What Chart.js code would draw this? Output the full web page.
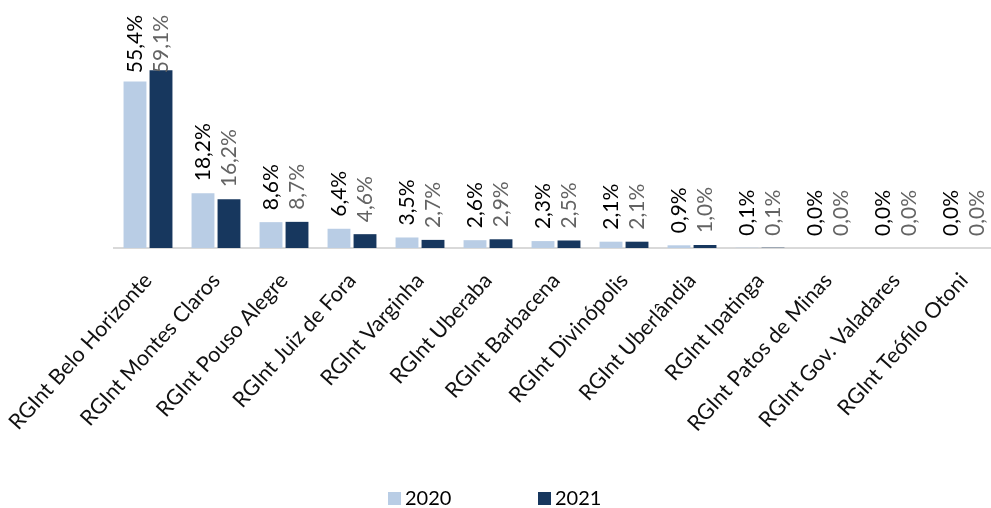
<!DOCTYPE html>
<html>
<head>
<meta charset="utf-8">
<script src="https://cdn.jsdelivr.net/npm/chart.js@4/dist/chart.umd.min.js"></script>
<style>
  html, body { margin: 0; padding: 0; background: #fff; overflow: hidden; }
  #wrap { width: 991px; height: 508px; overflow: hidden; }
  #chart { display: block; }
</style>
</head>
<body>
<div id="wrap"><canvas id="chart" width="1000" height="508"></canvas></div>
<script>
const categories = [
    "RGInt Belo Horizonte", "RGInt Montes Claros", "RGInt Pouso Alegre",
    "RGInt Juiz de Fora", "RGInt Varginha", "RGInt Uberaba",
    "RGInt Barbacena", "RGInt Divinópolis", "RGInt Uberlândia",
    "RGInt Ipatinga", "RGInt Patos de Minas", "RGInt Gov. Valadares",
    "RGInt Teófilo Otoni"
];
const values2020 = [55.4, 18.2, 8.6, 6.4, 3.5, 2.6, 2.3, 2.1, 0.9, 0.1, 0.0, 0.0, 0.0];
const values2021 = [59.1, 16.2, 8.7, 4.6, 2.7, 2.9, 2.5, 2.1, 1.0, 0.1, 0.0, 0.0, 0.0];
const seriesNames = ["2020", "2021"];

const FONT = "Lato";

function pct(v) {
    return v.toFixed(1).replace(".", ",") + "%";
}

// vertical value labels above each bar
const valueLabels = {
    id: "valueLabels",
    afterDatasetsDraw(chart) {
        const ctx = chart.ctx;
        chart.data.datasets.forEach((ds, i) => {
            const meta = chart.getDatasetMeta(i);
            ctx.save();
            ctx.font = "21px " + FONT;
            ctx.fillStyle = i === 0 ? "#000000" : "#636363";
            ctx.textAlign = "left";
            ctx.textBaseline = "middle";
            meta.data.forEach((bar, j) => {
                const text = pct(ds.data[j]);
                const w = ctx.measureText(text).width;
                let y = bar.y - 12;
                if (y - w < 15) y = 15 + w;
                ctx.save();
                ctx.translate(bar.x, y);
                ctx.rotate(-Math.PI / 2);
                ctx.fillText(text, 0, 0);
                ctx.restore();
            });
            ctx.restore();
        });
    }
};

// legend drawn at the bottom
const bottomLegend = {
    id: "bottomLegend",
    afterDraw(chart) {
        const ctx = chart.ctx;
        const xs = [388, 538];
        const y = 499;
        ctx.save();
        ctx.font = "20px " + FONT;
        ctx.textBaseline = "middle";
        ctx.textAlign = "left";
        chart.data.datasets.forEach((ds, i) => {
            ctx.fillStyle = ds.backgroundColor;
            ctx.fillRect(xs[i], y - 7, 13, 13);
            ctx.fillStyle = "#000";
            ctx.fillText(ds.label, xs[i] + 17, y);
        });
        ctx.restore();
    }
};

new Chart(document.getElementById("chart"), {
    type: "bar",
    data: {
        labels: categories,
        datasets: [
            {
                label: seriesNames[0],
                data: values2020,
                backgroundColor: "#b9cde5",
                categoryPercentage: 0.765,
                barPercentage: 0.88
            },
            {
                label: seriesNames[1],
                data: values2021,
                backgroundColor: "#17375e",
                categoryPercentage: 0.765,
                barPercentage: 0.88
            }
        ]
    },
    options: {
        responsive: false,
        animation: false,
        layout: {
            padding: { left: 114, right: 2, top: 0, bottom: 0 }
        },
        plugins: {
            legend: { display: false },
            tooltip: { enabled: false }
        },
        scales: {
            x: {
                grid: { display: false, drawTicks: false },
                border: { display: true, color: "#d9d9d9", width: 2 },
                ticks: {
                    autoSkip: false,
                    minRotation: 48,
                    maxRotation: 48,
                    padding: 20,
                    color: "#111",
                    font: { family: FONT, size: 21.5 }
                },
                afterFit(scale) {
                    scale.height = 260;
                    scale.paddingLeft = 0;
                    scale.paddingRight = 0;
                }
            },
            y: {
                display: false,
                min: 0,
                max: 82.5
            }
        }
    },
    plugins: [valueLabels, bottomLegend]
});
</script>
</body>
</html>
